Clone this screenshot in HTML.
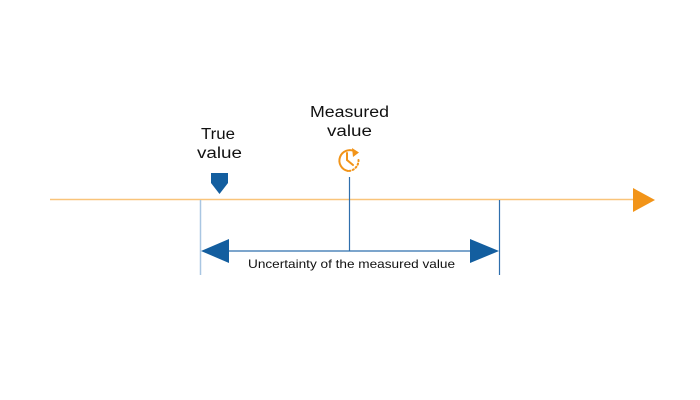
<!DOCTYPE html>
<html><head><meta charset="utf-8"><style>
html,body{margin:0;padding:0;background:#fff;}
svg{display:block;}
text{font-family:"Liberation Sans",sans-serif;fill:#111;}
</style></head><body>
<svg width="700" height="400" viewBox="0 0 700 400" xmlns="http://www.w3.org/2000/svg">
<rect width="700" height="400" fill="#fff"/>
<line x1="50" y1="199.5" x2="636" y2="199.5" stroke="#f9c47a" stroke-width="1.5"/>
<polygon points="633,188 655,200 633,212" fill="#f29418"/>
<line x1="200.5" y1="200" x2="200.5" y2="275" stroke="#a9c6e2" stroke-width="1.5"/>
<line x1="499.5" y1="200" x2="499.5" y2="275" stroke="#2f6fad" stroke-width="1.2"/>
<line x1="349.5" y1="177" x2="349.5" y2="251" stroke="#2f6fad" stroke-width="1.2"/>
<line x1="225" y1="251" x2="475" y2="251" stroke="#2f6fad" stroke-width="1.2"/>
<polygon points="201,251 229,239 229,263" fill="#135e9f"/>
<polygon points="499,251 470,239 470,263" fill="#135e9f"/>
<polygon points="211,173 228,173 228,183 219.5,194 211,183" fill="#135e9f"/>
<text x="248" y="268" font-size="12" textLength="207" lengthAdjust="spacingAndGlyphs">Uncertainty of the measured value</text>
<text x="201" y="139" font-size="15.5" textLength="34" lengthAdjust="spacingAndGlyphs">True</text>
<text x="197" y="158" font-size="15.5" textLength="45" lengthAdjust="spacingAndGlyphs">value</text>
<text x="310" y="117" font-size="15.5" textLength="79" lengthAdjust="spacingAndGlyphs">Measured</text>
<text x="327" y="136" font-size="15.5" textLength="45" lengthAdjust="spacingAndGlyphs">value</text>
<g fill="none" stroke="#f29418" stroke-width="2" stroke-linecap="round">
<path d="M355,151.5 A10.5,10.5 0 1 0 348,171"/>
<path d="M358.5,160 A10.5,10.5 0 0 1 348,171" stroke-dasharray="1.2,2.4"/>
<path d="M347,153 L347,160 L353,165"/>
</g>
<polygon points="352,148 359,152.5 353,157" fill="#f29418"/>
</svg>
</body></html>
